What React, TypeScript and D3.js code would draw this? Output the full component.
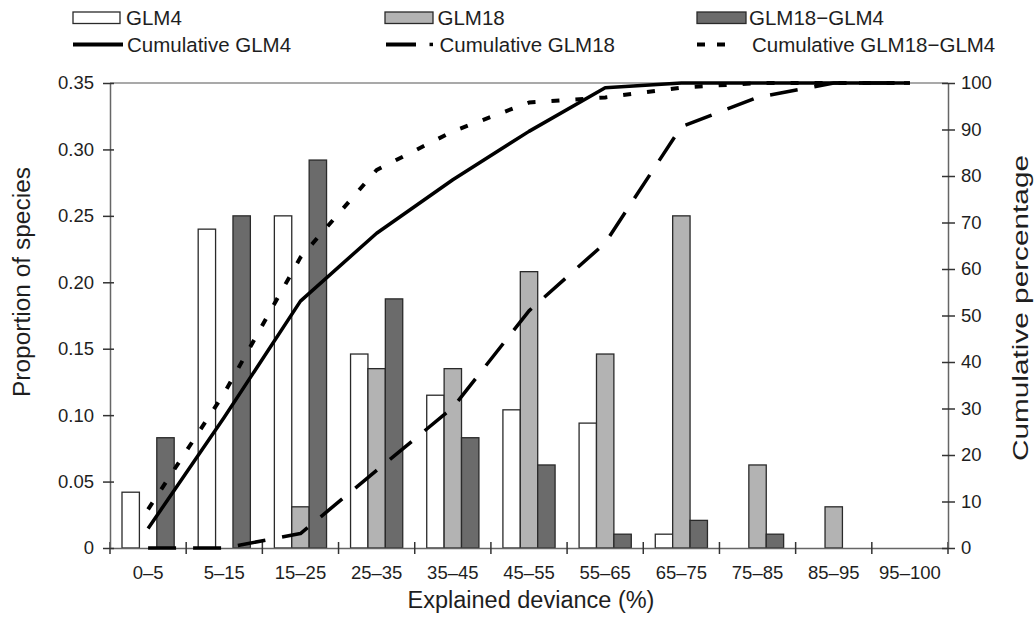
import React, { useEffect, useRef } from 'react';
import * as d3 from 'd3';

const categories = ['0–5', '5–15', '15–25', '25–35', '35–45', '45–55', '55–65', '65–75', '75–85', '85–95', '95–100'];

// proportion of species per deviance class
const glm4 = [0.042, 0.24, 0.25, 0.146, 0.115, 0.104, 0.094, 0.0104, 0, 0, 0];
const glm18 = [0, 0, 0.031, 0.135, 0.135, 0.208, 0.146, 0.25, 0.0625, 0.031, 0];
const glmDiff = [0.083, 0.25, 0.292, 0.1875, 0.083, 0.0625, 0.0104, 0.0208, 0.0104, 0, 0];

// cumulative percentages (right axis)
const cumGlm4 = [4.2, 28.1, 53.1, 67.7, 79.2, 89.6, 99.0, 100, 100, 100, 100];
const cumGlm18 = [0, 0, 3.1, 16.7, 30.2, 51.0, 65.6, 90.6, 96.9, 100, 100];
const cumDiff = [8.3, 33.3, 62.5, 81.3, 89.6, 95.8, 96.9, 99.0, 100, 100, 100];

const leftTicks = [0, 0.05, 0.1, 0.15, 0.2, 0.25, 0.3, 0.35];
const rightTicks = [0, 10, 20, 30, 40, 50, 60, 70, 80, 90, 100];

const FONT = '"Liberation Sans", Arial, Helvetica, sans-serif';
const INK = '#1e1e1e';

const App = () => {
  const ref = useRef<SVGSVGElement | null>(null);

  useEffect(() => {
    if (!ref.current) return;
    const svg = d3.select(ref.current);
    svg.selectAll('*').remove();

    const margin = { top: 83, right: 86, bottom: 77, left: 110 };
    const width = 1034;
    const height = 625;
    const x0 = margin.left;
    const x1 = width - margin.right;
    const yBottom = height - margin.bottom;

    const x = d3.scaleBand().domain(categories).range([x0, x1]).padding(0);
    const series = ['glm4', 'glm18', 'diff'];
    const xs = d3.scaleBand().domain(series).range([12, x.bandwidth() - 12]).padding(0);
    const yL = d3.scaleLinear().domain([0, 0.35]).range([yBottom, margin.top]);
    const yR = d3.scaleLinear().domain([0, 100]).range([yBottom, margin.top]);

    const fills = { glm4: '#ffffff', glm18: '#b3b3b3', diff: '#6b6b6b' };
    const values = { glm4, glm18, diff: glmDiff };

    // top frame line
    svg.append('line')
      .attr('x1', x0).attr('x2', x1)
      .attr('y1', margin.top).attr('y2', margin.top)
      .attr('stroke', '#8c8c8c').attr('stroke-width', 1.5);

    // bars
    const bars = svg.append('g');
    series.forEach((s) => {
      bars.selectAll(null)
        .data(categories.map((c, i) => ({ c, v: values[s][i] })).filter((d) => d.v > 0))
        .enter()
        .append('rect')
        .attr('x', (d) => x(d.c) + xs(s))
        .attr('y', (d) => yL(d.v))
        .attr('width', xs.bandwidth())
        .attr('height', (d) => yBottom - yL(d.v))
        .attr('fill', fills[s])
        .attr('stroke', '#2a2a2a')
        .attr('stroke-width', 1.3);
    });

    // x axis: labels at centres, ticks at class boundaries
    const xAxis = svg.append('g')
      .attr('transform', `translate(0,${yBottom})`)
      .call(d3.axisBottom(x).tickSize(0).tickSizeOuter(0).tickPadding(18));
    xAxis.select('.domain').attr('stroke', '#666').attr('stroke-width', 1.5);
    xAxis.selectAll('text').attr('font-size', 18.5).attr('font-family', FONT).attr('fill', INK);

    const bounds = categories.map((c) => x(c)).concat([x1]);
    svg.append('g').selectAll('line')
      .data(bounds)
      .enter()
      .append('line')
      .attr('x1', (d) => d).attr('x2', (d) => d)
      .attr('y1', yBottom - 6).attr('y2', yBottom + 6)
      .attr('stroke', '#333').attr('stroke-width', 1.5);

    // left axis
    const left = svg.append('g')
      .attr('transform', `translate(${x0},0)`)
      .call(d3.axisLeft(yL).tickValues(leftTicks).tickSize(7).tickSizeOuter(0).tickPadding(9)
        .tickFormat((d) => (d === 0 ? '0' : d3.format('.2f')(d))));
    left.select('.domain').attr('stroke', '#666').attr('stroke-width', 1.5);
    left.selectAll('.tick line').attr('x1', 4).attr('stroke', '#333').attr('stroke-width', 1.5);
    left.selectAll('text').attr('font-size', 18.5).attr('font-family', FONT).attr('fill', INK);

    // right axis
    const right = svg.append('g')
      .attr('transform', `translate(${x1},0)`)
      .call(d3.axisRight(yR).tickValues(rightTicks).tickSize(7).tickSizeOuter(0).tickPadding(6));
    right.select('.domain').attr('stroke', '#666').attr('stroke-width', 1.5);
    right.selectAll('.tick line').attr('x1', -6).attr('stroke', '#333').attr('stroke-width', 1.5);
    right.selectAll('text').attr('font-size', 18.5).attr('font-family', FONT).attr('fill', INK);

    // cumulative lines
    const line = d3.line<number>()
      .x((_, i) => x(categories[i]) + x.bandwidth() / 2)
      .y((d) => yR(d));

    const cumLines = [
      { data: cumGlm18, dash: '28,17', w: 3.5 },
      { data: cumDiff, dash: '8,16', w: 4 },
      { data: cumGlm4, dash: null, w: 3.5 },
    ];
    cumLines.forEach((l) => {
      svg.append('path')
        .attr('d', line(l.data))
        .attr('fill', 'none')
        .attr('stroke', '#000')
        .attr('stroke-width', l.w)
        .attr('stroke-dasharray', l.dash)
        .attr('stroke-linejoin', 'round');
    });

    // axis titles
    svg.append('text')
      .attr('x', 531).attr('y', 608)
      .attr('text-anchor', 'middle')
      .attr('font-size', 23.5).attr('font-family', FONT).attr('fill', INK)
      .text('Explained deviance (%)');

    svg.append('text')
      .attr('transform', 'translate(30,282) rotate(-90)')
      .attr('text-anchor', 'middle')
      .attr('font-size', 23).attr('font-family', FONT).attr('fill', INK)
      .attr('textLength', 230).attr('lengthAdjust', 'spacingAndGlyphs')
      .text('Proportion of species');

    svg.append('text')
      .attr('transform', 'translate(1028,308) rotate(-90)')
      .attr('text-anchor', 'middle')
      .attr('font-size', 22).attr('font-family', FONT).attr('fill', INK)
      .attr('textLength', 306).attr('lengthAdjust', 'spacingAndGlyphs')
      .text('Cumulative percentage');

    // legend
    const lg = svg.append('g').attr('font-family', FONT).attr('font-size', 20.5).attr('fill', INK);
    const boxes = [
      { s: 'glm4', x: 73, w: 47, label: 'GLM4', tx: 126 },
      { s: 'glm18', x: 385, w: 48, label: 'GLM18', tx: 437.5 },
      { s: 'diff', x: 697, w: 49, label: 'GLM18\u2212GLM4', tx: 749 },
    ];
    boxes.forEach((b) => {
      lg.append('rect')
        .attr('x', b.x).attr('y', 12).attr('width', b.w).attr('height', 11.5)
        .attr('fill', fills[b.s]).attr('stroke', '#2a2a2a').attr('stroke-width', 1.3);
      lg.append('text').attr('x', b.tx).attr('y', 25).text(b.label);
    });

    const ly = 44.5;
    lg.append('line').attr('x1', 73).attr('x2', 123).attr('y1', ly).attr('y2', ly)
      .attr('stroke', '#000').attr('stroke-width', 4);
    lg.append('text').attr('x', 127).attr('y', 52).text('Cumulative GLM4');

    lg.append('line').attr('x1', 386).attr('x2', 416).attr('y1', ly).attr('y2', ly)
      .attr('stroke', '#000').attr('stroke-width', 4);
    lg.append('rect').attr('x', 429.5).attr('y', ly - 1.8).attr('width', 3.5).attr('height', 3.5)
      .attr('fill', '#000');
    lg.append('text').attr('x', 439.5).attr('y', 52).text('Cumulative GLM18');

    lg.append('line').attr('x1', 697).attr('x2', 729).attr('y1', ly).attr('y2', ly)
      .attr('stroke', '#000').attr('stroke-width', 4).attr('stroke-dasharray', '8,12');
    lg.append('text').attr('x', 752).attr('y', 52).text('Cumulative GLM18\u2212GLM4');
  }, []);

  return (
    <svg
      ref={ref}
      width={1034}
      height={625}
      style={{ position: 'absolute', left: 0, top: 0, background: '#fff' }}
    />
  );
};

export default App;
